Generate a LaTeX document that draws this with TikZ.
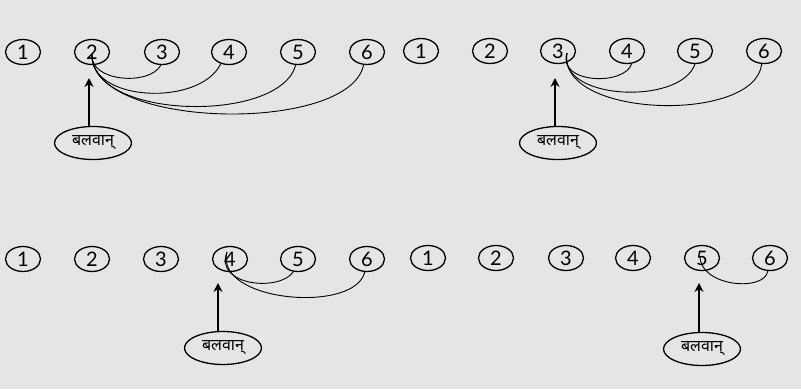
\documentclass[tikz,border=0pt]{standalone}
\usepackage{fontspec}
\setmainfont{Lato}
\newfontfamily\devfont[Script=Devanagari]{Noto Sans}
\usetikzlibrary{arrows.meta,shapes.geometric}
\definecolor{bg}{HTML}{E5E5E5}
\tikzset{
  num/.style={draw,ellipse,line width=1.3pt,minimum width=35pt,minimum height=25pt,inner sep=0pt,font=\fontsize{20}{20}\selectfont},
  lab/.style={draw,ellipse,line width=1.3pt,minimum width=77pt,minimum height=33pt,inner sep=0pt,font=\devfont\fontsize{16}{16}\selectfont},
  arc/.style={line width=0.9pt},
  arr/.style={line width=1.8pt,-{Stealth[length=9pt,width=9pt]}}
}
\begin{document}
\begin{tikzpicture}[x=1pt,y=-1pt]
\fill[bg] (0,0) rectangle (801,389);
\useasboundingbox (0,0) rectangle (801,389);
% top-left row
\foreach \n/\x in {1/23,2/92,3/162,4/229,5/298,6/367}{\node[num] (A\n) at (\x,52) {\n};}
% top-right row
\foreach \n/\x in {1/421,2/490,3/558,4/627,5/695,6/764}{\node[num] (B\n) at (\x,51) {\n};}
% bottom-left row
\foreach \n/\x in {1/23,2/92,3/161,4/230,5/298,6/367}{\node[num] (C\n) at (\x,259) {\n};}
% bottom-right row
\foreach \n/\x in {1/428,2/496,3/566,4/633,5/702,6/770}{\node[num] (D\n) at (\x,258) {\n};}
% labels
\node[lab] (LA) at (93,143) {बलवान्};
\node[lab] (LB) at (558,143) {बलवान्};
\node[lab] (LC) at (223,348) {बलवान्};
\node[lab] (LD) at (702,349) {बलवान्};
% arrow tips
\coordinate (tA) at (89,78);
\coordinate (tB) at (555,78);
\coordinate (tC) at (218,283);
\coordinate (tD) at (699,283);
\draw[arr] (tA |- LA.north) -- (tA);
\draw[arr] (tB |- LB.north) -- (tB);
\draw[arr] (tC |- LC.north) -- (tC);
\draw[arr] (tD |- LD.north) -- (tD);
% curve starts
\coordinate (sA) at (92,54);
\coordinate (sB) at (567,53);
\coordinate (sC) at (227,252);
\coordinate (sD) at (700,256);
% top-left curves
\draw[arc] (sA) .. controls (89,82) and (150,86) .. (A3.-95);
\draw[arc] (sA) .. controls (89,102) and (200,107) .. (A4.-125);
\draw[arc] (sA) .. controls (90,120) and (280,124) .. (A5.-100);
\draw[arc] (sA) .. controls (90,130) and (350,134) .. (A6.-105);
% top-right curves
\draw[arc] (sB) .. controls (557,84) and (625,86) .. (B4.-70);
\draw[arc] (sB) .. controls (557,100) and (680,106) .. (B5.-90);
\draw[arc] (sB) .. controls (557,118) and (755,124) .. (B6.-100);
% bottom-left curves
\draw[arc] (sC) .. controls (214,286) and (280,292) .. (C5.-110);
\draw[arc] (sC) .. controls (214,302) and (355,314) .. (C6.-100);
% bottom-right curve
\draw[arc] (sD) .. controls (700,287) and (765,292) .. (D6.-100);
\end{tikzpicture}
\end{document}
